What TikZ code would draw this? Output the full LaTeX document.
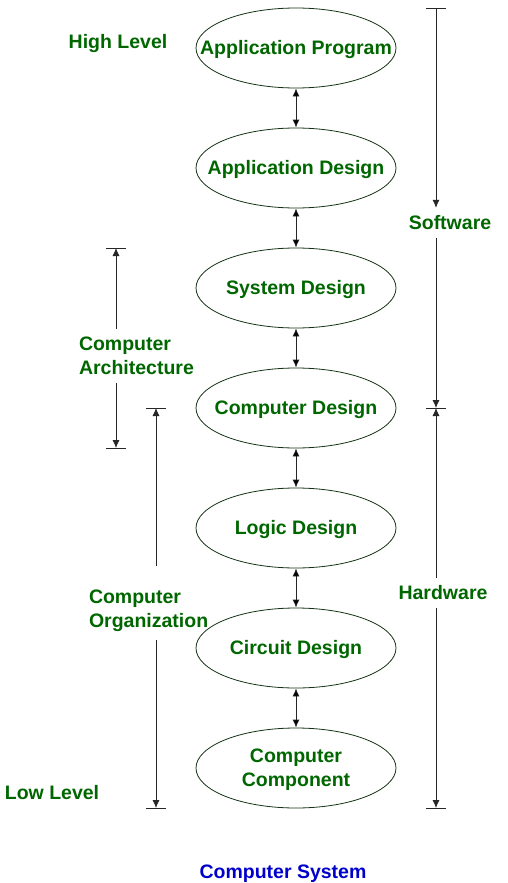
\documentclass[tikz,border=0pt]{standalone}
\usepackage{fontspec}
\setmainfont{Liberation Sans}
\usetikzlibrary{shapes.geometric, arrows.meta, positioning}
\definecolor{levelgreen}{RGB}{0,102,0}
\definecolor{titleblue}{RGB}{0,0,204}
\definecolor{rimgreen}{RGB}{20,50,20}
\newcommand{\nowidth}[1]{\makebox[0pt]{\smash{\raisebox{-6.5pt}{#1}}}}

\begin{document}
\begin{tikzpicture}[x=1pt, y=-1pt,
                    font=\bfseries\fontsize{19.5}{24}\selectfont,
                    >={Latex[length=8pt,width=7pt]}]

        \useasboundingbox (0,0) rectangle (508,883);

        % Setup the styles for the stages and the side labels
        \tikzset{stage style/.style={ellipse,
                                     draw=rimgreen,
                                     line width=0.8pt,
                                     minimum width=200pt,
                                     minimum height=80pt,
                                     inner sep=0pt,
                                     text=levelgreen},
                 side style/.style={text=levelgreen,
                                    inner sep=2pt,
                                    outer sep=6pt},
                 span style/.style={line width=0.8pt,
                                    draw=black!85}}

        % Draw the stages
        \node[stage style] at (296, 48)   (prog)    {\nowidth{Application Program}};
        \node[stage style] at (296, 168)  (appdes)  {\nowidth{Application Design}};
        \node[stage style] at (296, 288)  (sysdes)  {\nowidth{System Design}};
        \node[stage style] at (296, 408)  (compdes) {\nowidth{Computer Design}};
        \node[stage style] at (296, 528)  (logic)   {\nowidth{Logic Design}};
        \node[stage style] at (296, 648)  (circuit) {\nowidth{Circuit Design}};
        \node[stage style] at (296, 768)  (comp)
            {\nowidth{\begin{tabular}{@{}c@{}}Computer\\Component\end{tabular}}};

        % Draw the side labels
        \node[side style] at (118, 44)   (high) {High Level};
        \node[side style] at (52, 793)   (low)  {Low Level};
        \node[side style] at (450, 223)  (soft) {Software};
        \node[side style] at (443, 593)  (hard) {Hardware};
        \node[side style, align=left, anchor=west] at (71, 356)  (arch) {Computer\\Architecture};
        \node[side style, align=left, anchor=west] at (81, 611)  (org)  {Computer\\Organization};
        \node[text=titleblue] at (283, 874) (title) {Computer System};

        % Ends of the spans
        \coordinate (sw top) at (436, 8);
        \coordinate (sw end) at (436, 408);
        \coordinate (hw end) at (436, 808);
        \coordinate (ca top) at (116, 248);
        \coordinate (ca end) at (116, 448);
        \coordinate (co top) at (156, 408);
        \coordinate (co end) at (156, 808);
        \coordinate (co gap) at ([yshift=16pt]org.north -| co top);

        % Connect the stages with arrows
        \draw[<->, line width=0.8pt, draw=black!85]
            (prog)     edge (appdes)
            (appdes)   edge (sysdes)
            (sysdes)   edge (compdes)
            (compdes)  edge (logic)
            (logic)    edge (circuit)
            (circuit)  edge (comp)
            ;

        % Draw the spans
        \draw[span style, ->] (sw top) -- (sw top |- soft.north);
        \draw[span style, ->] (sw top |- soft.south) -- (sw end);
        \draw[span style, <-] (sw end) -- (sw end |- hard.north);
        \draw[span style, ->] (sw end |- hard.south) -- (hw end);
        \draw[span style, <-] (ca top) -- (ca top |- arch.north);
        \draw[span style, ->] (ca top |- arch.south) -- (ca end);
        \draw[span style, <-] (co top) -- (co gap);
        \draw[span style, ->] (co top |- org.south) -- (co end);
        \foreach \p in {sw top, sw end, hw end, ca top, ca end, co top, co end}
            \draw[span style] ([xshift=-10pt]\p) -- ([xshift=10pt]\p);
\end{tikzpicture}
\end{document}
